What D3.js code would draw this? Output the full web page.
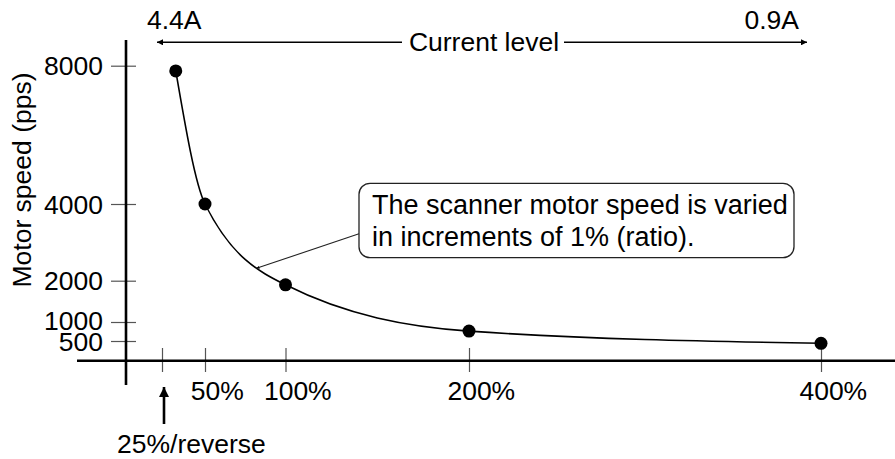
<!DOCTYPE html>
<html>
<head>
<meta charset="utf-8">
<script src="https://cdn.jsdelivr.net/npm/d3@7"></script>
<style>
  html, body { margin: 0; padding: 0; background: #fff; }
  svg { display: block; font-family: "Liberation Sans", Arial, Helvetica, sans-serif; }
</style>
</head>
<body>
<svg id="chart" width="895" height="459"></svg>
<script>
// Scanner motor speed versus speed ratio
const ratioTicks   = [25, 50, 100, 200, 400];
const ratioLabels  = ["", "50%", "100%", "200%", "400%"];
const speedTicks   = [500, 1000, 2000, 4000, 8000];
const speedLabels  = ["500", "1000", "2000", "4000", "8000"];
const ratioValues  = [33, 50, 100, 200, 400];
const speedValues  = [7850, 4000, 1900, 760, 440];
const currentEnds  = ["4.4A", "0.9A"];

const W = 895, H = 459;
const FS = 26.5;
const svg = d3.select("#chart");

const axisX0 = 126;     // y-axis position
const axisY0 = 360.7;   // x-axis position

// The axes are drawn with uneven spacing, so both scales are piecewise linear
const x = d3.scaleLinear()
  .domain(ratioTicks)
  .range([162, 205, 285.5, 469, 821]);
const y = d3.scaleLinear()
  .domain(speedTicks)
  .range([341, 322, 280.7, 204, 65.7]);

// ---- y axis ----
const yAxis = svg.append("g")
  .attr("transform", `translate(${axisX0},0)`)
  .call(d3.axisLeft(y).tickValues(speedTicks).tickSize(15).tickPadding(8)
        .tickFormat((d, i) => speedLabels[i]));
yAxis.select(".domain").remove();
yAxis.selectAll(".tick line").attr("x2", -15).attr("x1", 10)
  .attr("stroke", "#555").attr("stroke-width", 1.2);
// the two lowest labels sit close together; nudge them apart slightly
const labelNudge = { 500: 0.8, 1000: -1.2 };
yAxis.selectAll(".tick text").attr("font-size", FS).attr("fill", "#000")
  .attr("font-family", "Liberation Sans, Arial, sans-serif")
  .attr("y", d => labelNudge[d] || 0)
  .attr("dy", "0.34em");

// ---- x axis ----
const xAxis = svg.append("g")
  .attr("transform", `translate(0,${axisY0})`)
  .call(d3.axisBottom(x).tickValues(ratioTicks).tickSize(11.3)
        .tickFormat((d, i) => ratioLabels[i]));
xAxis.select(".domain").remove();
xAxis.selectAll(".tick line").attr("y1", -12.7)
  .attr("stroke", "#555").attr("stroke-width", 1.2);
const pctW = (() => {
  const t = svg.append("text").attr("font-size", FS).text("%");
  const w = t.node().getComputedTextLength();
  t.remove();
  return w;
})();
xAxis.selectAll(".tick text")
  .attr("font-size", FS).attr("fill", "#000")
  .attr("font-family", "Liberation Sans, Arial, sans-serif")
  .attr("y", 400 - axisY0).attr("dy", 0)
  .attr("dx", pctW / 2);

// axis lines
svg.append("line")
  .attr("x1", 77).attr("x2", W).attr("y1", axisY0).attr("y2", axisY0)
  .attr("stroke", "#000").attr("stroke-width", 2.6);
svg.append("line")
  .attr("x1", axisX0).attr("x2", axisX0).attr("y1", 40).attr("y2", 385)
  .attr("stroke", "#000").attr("stroke-width", 2.6);

// y title
svg.append("text")
  .attr("transform", `translate(31,180) rotate(-90)`)
  .attr("text-anchor", "middle")
  .attr("font-size", FS)
  .text("Motor speed (pps)");

// ---- markers ----
const defs = svg.append("defs");
defs.append("marker")
  .attr("id", "headSmall").attr("viewBox", "0 0 10 10")
  .attr("refX", 10).attr("refY", 5)
  .attr("markerUnits", "userSpaceOnUse")
  .attr("markerWidth", 9).attr("markerHeight", 6)
  .attr("orient", "auto")
  .append("path").attr("d", "M0,0 L10,5 L0,10 Z").attr("fill", "#000");
defs.append("marker")
  .attr("id", "headBig").attr("viewBox", "0 0 10 10")
  .attr("refX", 10).attr("refY", 5)
  .attr("markerUnits", "userSpaceOnUse")
  .attr("markerWidth", 14).attr("markerHeight", 10)
  .attr("orient", "auto")
  .append("path").attr("d", "M0,0 L10,5 L0,10 Z").attr("fill", "#000");
defs.append("marker")
  .attr("id", "headTiny").attr("viewBox", "0 0 10 10")
  .attr("refX", 10).attr("refY", 5)
  .attr("markerUnits", "userSpaceOnUse")
  .attr("markerWidth", 5).attr("markerHeight", 3)
  .attr("orient", "auto")
  .append("path").attr("d", "M0,0 L10,5 L0,10 Z").attr("fill", "#000");

// ---- current level arrow ----
const arrowY = 42.3;
svg.append("line")
  .attr("x1", 402).attr("x2", 157).attr("y1", arrowY).attr("y2", arrowY)
  .attr("stroke", "#000").attr("stroke-width", 1.4)
  .attr("marker-end", "url(#headSmall)");
svg.append("line")
  .attr("x1", 564).attr("x2", 807).attr("y1", arrowY).attr("y2", arrowY)
  .attr("stroke", "#000").attr("stroke-width", 1.4)
  .attr("marker-end", "url(#headSmall)");
svg.append("text")
  .attr("x", 484).attr("y", 51.3).attr("text-anchor", "middle")
  .attr("font-size", FS).text("Current level");
svg.append("text")
  .attr("x", 147).attr("y", 29.3).attr("font-size", FS).text(currentEnds[0]);
svg.append("text")
  .attr("x", 799).attr("y", 29.3).attr("text-anchor", "end")
  .attr("font-size", FS).text(currentEnds[1]);

// ---- curve and points ----
const pts = ratioValues.map((r, i) => [x(r), y(speedValues[i])]);
const curve = svg.append("path")
  .attr("d", d3.line().curve(d3.curveMonotoneX)(pts))
  .attr("fill", "none").attr("stroke", "#000").attr("stroke-width", 1.6);
svg.selectAll("circle.pt").data(pts).join("circle")
  .attr("class", "pt")
  .attr("cx", d => d[0]).attr("cy", d => d[1]).attr("r", 6.5)
  .attr("fill", "#000");

// ---- 25%/reverse marker ----
const revX = x(25) + 2;
svg.append("line")
  .attr("x1", revX).attr("x2", revX).attr("y1", 424).attr("y2", 387)
  .attr("stroke", "#000").attr("stroke-width", 2.6)
  .attr("marker-end", "url(#headBig)");
svg.append("text")
  .attr("x", 117).attr("y", 453).attr("font-size", FS).text("25%/reverse");

// ---- callout ----
const box = { x: 359, y: 183.3, w: 435, h: 74.4 };
svg.append("rect")
  .attr("x", box.x).attr("y", box.y).attr("width", box.w).attr("height", box.h)
  .attr("rx", 11).attr("ry", 11)
  .attr("fill", "#fff").attr("stroke", "#222").attr("stroke-width", 1.3);
const callLines = ["The scanner motor speed is varied", "in increments of 1% (ratio)."];
svg.selectAll("text.call").data(callLines).join("text")
  .attr("class", "call")
  .attr("x", 372).attr("y", (d, i) => 214 + i * 32)
  .attr("font-size", 27).text(d => d);

// leader tip placed on the curve
const node = curve.node();
const len = node.getTotalLength();
const targetX = 256.5;
let lo = 0, hi = len;
for (let k = 0; k < 40; k++) {
  const mid = (lo + hi) / 2;
  if (node.getPointAtLength(mid).x < targetX) lo = mid; else hi = mid;
}
const tip = node.getPointAtLength(lo);
svg.append("line")
  .attr("x1", box.x).attr("y1", 233.7).attr("x2", tip.x).attr("y2", tip.y)
  .attr("stroke", "#222").attr("stroke-width", 1.1)
  .attr("marker-end", "url(#headTiny)");
</script>
</body>
</html>
